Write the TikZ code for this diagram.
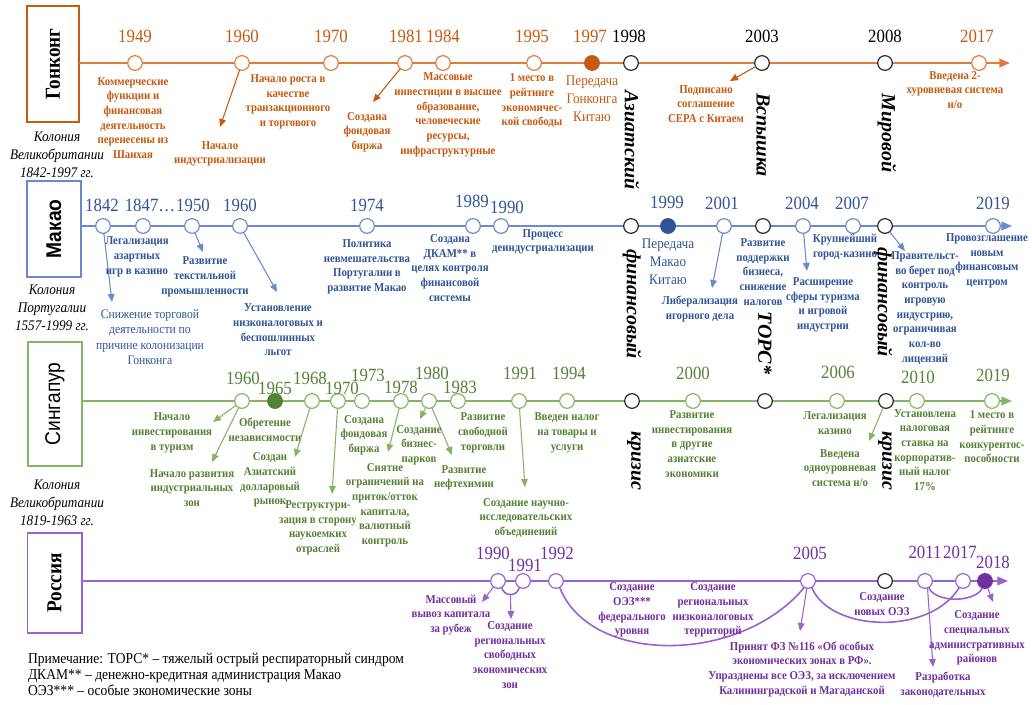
\documentclass[tikz,border=0pt]{standalone}
\usepackage{fontspec}
\setmainfont{Liberation Serif}[FakeStretch=0.9]
\newfontfamily\vfont{Liberation Serif}
\newfontfamily\sfb{Liberation Sans}[FakeStretch=0.9]
\usetikzlibrary{arrows.meta}
\definecolor{hkT}{HTML}{C55A11}
\definecolor{hkL}{HTML}{E07B3C}
\definecolor{moT}{HTML}{2F5597}
\definecolor{moL}{HTML}{6A8BCB}
\definecolor{sgT}{HTML}{548235}
\definecolor{sgL}{HTML}{84B464}
\definecolor{ruT}{HTML}{7030A0}
\definecolor{ruL}{HTML}{9A62CF}
\definecolor{blk}{HTML}{262626}
\tikzset{
  every node/.style={inner sep=0pt, outer sep=0pt},
  dot/.style={circle, minimum size=11pt, fill=white, draw, line width=0.9pt},
  hkdot/.style={dot, draw=hkL},
  modot/.style={dot, draw=moL},
  sgdot/.style={dot, draw=sgL},
  rudot/.style={dot, draw=ruL},
  bkdot/.style={dot, draw=blk},
  yr/.style={font=\fontsize{14}{14}\selectfont},
  desc/.style={align=center, font=\fontsize{9}{11}\selectfont\bfseries},
  bigd/.style={align=center, font=\fontsize{11}{13.5}\selectfont},
  crisis/.style={rotate=-90, font=\vfont\fontsize{15}{15}\selectfont\bfseries\itshape, text=black},
  colony/.style={align=center, font=\fontsize{11}{13.5}\selectfont\itshape},
  tline/.style={line width=1.2pt, -{Triangle[length=8pt,width=6.5pt]}},
  arr/.style={line width=0.8pt, -{Triangle[length=6pt,width=5pt]}},
  curve/.style={line width=1.2pt},
  cbox/.style={draw, line width=1pt, rotate=90}
}
\begin{document}
\begin{tikzpicture}[x=0.75pt,y=-0.75pt]
\useasboundingbox (0,0) rectangle (1032,704);
\fill[white] (0,0) rectangle (1032,704);

% ================= Hong Kong =================
\node[cbox, draw=hkT, minimum width=87pt, minimum height=39pt, font=\fontsize{16}{16}\selectfont\bfseries] (hkbox) at (53,64) {Гонконг};
\node[colony] (hkcol) at (57,155) {Колония\\Великобритании\\1842-1997 гг.};
\coordinate (hkend) at (1010,63);
\draw[tline, draw=hkL] (hkbox.south |- hkend) -- (hkend);
\node[hkdot] (hk1949) at (135,63) {};
\node[hkdot] (hk1960) at (242,63) {};
\node[hkdot] (hk1970) at (331,63) {};
\node[hkdot] (hk1981) at (405,63) {};
\node[hkdot] (hk1984) at (443,63) {};
\node[hkdot] (hk1995) at (534,63) {};
\node[dot, draw=hkT, fill=hkT] (hk1997) at (592,63) {};
\node[bkdot] (hk1998) at (631,63) {};
\node[bkdot] (hk2003) at (762,63) {};
\node[bkdot] (hk2008) at (885,63) {};
\node[hkdot] (hk2017) at (979,63) {};
\node[yr, text=hkT] (hky1949) at (135,36) {1949};
\node[yr, text=hkT] (hky1960) at (242,36) {1960};
\node[yr, text=hkT] (hky1970) at (331,36) {1970};
\node[yr, text=hkT] (hky1981) at (406,36) {1981};
\node[yr, text=hkT] (hky1984) at (443,36) {1984};
\node[yr, text=hkT] (hky1995) at (532,36) {1995};
\node[yr, text=hkT] (hky1997) at (590,36) {1997};
\node[yr, text=black] (hky1998) at (629,36) {1998};
\node[yr, text=black] (hky2003) at (762,36) {2003};
\node[yr, text=black] (hky2008) at (885,36) {2008};
\node[yr, text=hkT] (hky2017) at (977,36) {2017};
\node[desc, text=hkT] (hkd1949) at (133,118) {Коммерческие\\функции и\\финансовая\\деятельность\\перенесены из\\Шанхая};
\coordinate (hk1960t) at (220,127);
\draw[arr, draw=hkT] (hk1960) -- (hk1960t);
\node[desc, text=hkT] (hkd1960a) at (220,154) {Начало\\индустриализации};
\node[desc, text=hkT] (hkd1960b) at (288,102) {Начало роста в\\качестве\\транзакционного\\и торгового};
\coordinate (hk1981t) at (373,102);
\draw[arr, draw=hkT] (hk1981) -- (hk1981t);
\node[desc, text=hkT] (hkd1981) at (367,132) {Создана\\фондовая\\биржа};
\node[desc, text=hkT] (hkd1984) at (448,115) {Массовые\\инвестиции в высшее\\образование,\\человеческие\\ресурсы,\\инфраструктурные};
\node[desc, text=hkT] (hkd1995) at (532,101) {1 место в\\рейтинге\\экономичес-\\кой свободы};
\node[bigd, text=hkT] (hkd1997) at (592,99) {Передача\\Гонконга\\Китаю};
\coordinate (hk2003t) at (730,81);
\draw[arr, draw=hkT] (hk2003) -- (hk2003t);
\node[desc, text=hkT] (hkd2003) at (706,104) {Подписано\\соглашение\\CEPA с Китаем};
\node[desc, text=hkT] (hkd2017) at (955,90) {Введена 2-\\хуровневая система\\н/о};

% ================= crisis labels =================
\node[crisis] (cr1a) at (632,140) {Азиатский};
\node[crisis] (cr1b) at (632,304) {финансовый};
\node[crisis] (cr1c) at (634,461) {кризис};
\node[crisis] (cr2a) at (763,135) {Вспышка};
\node[crisis] (cr2b) at (765,343) {ТОРС*};
\node[crisis] (cr3a) at (887,133) {Мировой};
\node[crisis] (cr3b) at (883,302) {финансовый};
\node[crisis] (cr3c) at (885,461) {кризис};

% ================= Macau =================
\node[cbox, draw=moL, minimum width=72pt, minimum height=40.5pt, font=\sfb\fontsize{16}{16}\selectfont\bfseries] (mobox) at (54,229) {Макао};
\node[colony] (mocol) at (52,308) {Колония\\Португалии\\1557-1999 гг.};
\coordinate (moend) at (1012,226);
\draw[tline, draw=moL] (mobox.south |- moend) -- (moend);
\node[modot] (mo1842) at (103,226) {};
\node[modot] (mo1847) at (143,226) {};
\node[modot] (mo1950) at (192,226) {};
\node[modot] (mo1960) at (240,226) {};
\node[modot] (mo1974) at (367,226) {};
\node[modot] (mo1989) at (473,226) {};
\node[modot] (mo1990) at (501,226) {};
\node[bkdot] (mo1998) at (631,226) {};
\node[dot, draw=moT, fill=moT] (mo1999) at (668,226) {};
\node[modot] (mo2001) at (724,226) {};
\node[bkdot] (mo2003) at (763,226) {};
\node[modot] (mo2004) at (803,226) {};
\node[modot] (mo2007) at (853,226) {};
\node[bkdot] (mo2008) at (885,226) {};
\node[modot] (mo2019) at (993,226) {};
\node[yr, text=moT] (moy1842) at (102,205) {1842};
\node[yr, text=moT] (moy1847) at (150,205) {1847…};
\node[yr, text=moT] (moy1950) at (193,205) {1950};
\node[yr, text=moT] (moy1960) at (240,205) {1960};
\node[yr, text=moT] (moy1974) at (367,205) {1974};
\node[yr, text=moT] (moy1989) at (472,201) {1989};
\node[yr, text=moT] (moy1990) at (507,207) {1990};
\node[yr, text=moT] (moy1999) at (667,202) {1999};
\node[yr, text=moT] (moy2001) at (722,203) {2001};
\node[yr, text=moT] (moy2004) at (802,203) {2004};
\node[yr, text=moT] (moy2007) at (852,203) {2007};
\node[yr, text=moT] (moy2019) at (993,203) {2019};
\coordinate (mo1842t) at (112,302);
\draw[arr, draw=moL] (mo1842) -- (mo1842t);
\node[align=center, font=\fontsize{9.7}{11.5}\selectfont, text=moT] (mod1842) at (150,337) {Снижение торговой\\деятельности по\\причине колонизации\\Гонконга};
\node[desc, text=moT] (mod1847) at (137,257) {Легализация\\азартных\\игр в казино};
\coordinate (mo1950t) at (203,252);
\draw[arr, draw=moL] (mo1950) -- (mo1950t);
\node[desc, text=moT] (mod1950) at (205,277) {Развитие\\текстильной\\промышленности};
\coordinate (mo1960t) at (277,292);
\draw[arr, draw=moL] (mo1960) -- (mo1960t);
\node[desc, text=moT] (mod1960) at (278,330) {Установление\\низконалоговых и\\беспошлинных\\льгот};
\node[desc, text=moT] (mod1974) at (367,267) {Политика\\невмешательства\\Португалии в\\развитие Макао};
\node[desc, text=moT] (mod1989) at (450,268) {Создана\\ДКАМ** в\\целях контроля\\финансовой\\системы};
\node[desc, text=moT] (mod1990) at (543,242) {Процесс\\деиндустриализации};
\node[bigd, text=moT] (mod1999) at (668,262) {Передача\\Макао\\Китаю};
\coordinate (mo2001t) at (712,288);
\draw[arr, draw=moL] (mo2001) -- (mo2001t);
\node[desc, text=moT] (mod2001) at (700,309) {Либерализация\\игорного дела};
\node[desc, text=moT] (mod2003) at (763,272) {Развитие\\поддержки\\бизнеса,\\снижение\\налогов};
\coordinate (mo2004t) at (807,271);
\draw[arr, draw=moL] (mo2004) -- (mo2004t);
\node[desc, text=moT] (mod2004) at (823,305) {Расширение\\сферы туризма\\и игровой\\индустрии};
\node[desc, text=moT] (mod2007) at (845,247) {Крупнейший\\город-казино};
\coordinate (mo2008t) at (905,251);
\draw[arr, draw=moL] (mo2008) -- (mo2008t);
\node[desc, text=moT] (mod2008) at (925,308) {Правительст-\\во берет под\\контроль\\игровую\\индустрию,\\ограничивая\\кол-во\\лицензий};
\node[desc, text=moT] (mod2019) at (987,261) {Провозглашение\\новым\\финансовым\\центром};

% ================= Singapore =================
\node[cbox, draw=sgL, minimum width=93pt, minimum height=40.5pt, font=\sfb\fontsize{16}{16}\selectfont] (sgbox) at (55,404) {Сингапур};
\node[colony] (sgcol) at (57,503) {Колония\\Великобритании\\1819-1963 гг.};
\coordinate (sgend) at (1012,401);
\draw[tline, draw=sgL] (sgbox.south |- sgend) -- (sgend);
\node[sgdot] (sg1960) at (242,401) {};
\node[dot, draw=sgT, fill=sgT] (sg1965) at (275,401) {};
\node[sgdot] (sg1968) at (312,401) {};
\node[sgdot] (sg1970) at (338,401) {};
\node[sgdot] (sg1973) at (362,401) {};
\node[sgdot] (sg1978) at (401,401) {};
\node[sgdot] (sg1980) at (429,401) {};
\node[sgdot] (sg1983) at (458,401) {};
\node[sgdot] (sg1991) at (519,401) {};
\node[sgdot] (sg1994) at (567,401) {};
\node[bkdot] (sg1998) at (632,401) {};
\node[sgdot] (sg2000) at (693,401) {};
\node[bkdot] (sg2003) at (765,401) {};
\node[sgdot] (sg2006) at (837,401) {};
\node[bkdot] (sg2008) at (886,401) {};
\node[sgdot] (sg2010) at (917,401) {};
\node[sgdot] (sg2019) at (992,401) {};
\node[yr, text=sgT] (sgy1960) at (243,378) {1960};
\node[yr, text=sgT] (sgy1965) at (275,388) {1965};
\node[yr, text=sgT] (sgy1968) at (310,378) {1968};
\node[yr, text=sgT] (sgy1970) at (342,388) {1970};
\node[yr, text=sgT] (sgy1973) at (368,375) {1973};
\node[yr, text=sgT] (sgy1978) at (401,387) {1978};
\node[yr, text=sgT] (sgy1980) at (432,373) {1980};
\node[yr, text=sgT] (sgy1983) at (460,387) {1983};
\node[yr, text=sgT] (sgy1991) at (520,373) {1991};
\node[yr, text=sgT] (sgy1994) at (569,373) {1994};
\node[yr, text=sgT] (sgy2000) at (693,373) {2000};
\node[yr, text=sgT] (sgy2006) at (838,372) {2006};
\node[yr, text=sgT] (sgy2010) at (918,377) {2010};
\node[yr, text=sgT] (sgy2019) at (993,375) {2019};
\coordinate (sg1960t1) at (213,422);
\coordinate (sg1960t2) at (212,462);
\draw[arr, draw=sgL] (sg1960) -- (sg1960t1);
\draw[arr, draw=sgL] (sg1960) -- (sg1960t2);
\node[desc, text=sgT] (sgd1960a) at (172,433) {Начало\\инвестирования\\в туризм};
\node[desc, text=sgT] (sgd1960b) at (192,488) {Начало развития\\индустриальных\\зон};
\node[desc, text=sgT] (sgd1965) at (265,430) {Обретение\\независимости};
\coordinate (sg1968t) at (295,457);
\draw[arr, draw=sgL] (sg1968) -- (sg1968t);
\node[desc, text=sgT] (sgd1968) at (270,480) {Создан\\Азиатский\\долларовый\\рынок};
\coordinate (sg1970t) at (332,494);
\draw[arr, draw=sgL] (sg1970) -- (sg1970t);
\node[desc, text=sgT] (sgd1970) at (318,528) {Реструктури-\\зация в сторону\\наукоемких\\отраслей};
\node[desc, text=sgT] (sgd1973) at (364,435) {Создана\\фондовая\\биржа};
\coordinate (sg1978t) at (388,452);
\draw[arr, draw=sgL] (sg1978) -- (sg1978t);
\node[desc, text=sgT] (sgd1978) at (385,505) {Снятие\\ограничений на\\приток/отток\\капитала,\\валютный\\контроль};
\coordinate (sg1980t1) at (420,419);
\coordinate (sg1980t2) at (452,455);
\draw[arr, draw=sgL] (sg1980) -- (sg1980t1);
\draw[arr, draw=sgL] (sg1980) -- (sg1980t2);
\node[desc, text=sgT] (sgd1980a) at (419,445) {Создание\\бизнес-\\парков};
\node[desc, text=sgT] (sgd1980b) at (464,478) {Развитие\\нефтехимии};
\node[desc, text=sgT] (sgd1983) at (483,433) {Развитие\\свободной\\торговли};
\coordinate (sg1991t) at (525,487);
\draw[arr, draw=sgL] (sg1991) -- (sg1991t);
\node[desc, text=sgT] (sgd1991) at (526,518) {Создание научно-\\исследовательских\\объединений};
\node[desc, text=sgT] (sgd1994) at (567,433) {Введен налог\\на товары и\\услуги};
\node[desc, text=sgT] (sgd2000) at (692,444) {Развитие\\инвестирования\\в другие\\азиатские\\экономики};
\node[desc, text=sgT] (sgd2006) at (835,423) {Легализация\\казино};
\coordinate (sg2008t) at (869,441);
\draw[arr, draw=sgL] (sg2008) -- (sg2008t);
\node[desc, text=sgT] (sgd2008) at (840,468) {Введена\\одноуровневая\\система н/о};
\node[desc, text=sgT] (sgd2010) at (925,450) {Установлена\\налоговая\\ставка на\\корпоратив-\\ный налог\\17\%};
\node[desc, text=sgT] (sgd2019) at (992,437) {1 место в\\рейтинге\\конкурентос-\\пособности};

% ================= Russia =================
\node[cbox, draw=ruL, minimum width=75pt, minimum height=41pt, font=\fontsize{16}{16}\selectfont\bfseries] (rubox) at (54.5,583) {Россия};
\coordinate (ruend) at (1008,581);
\draw[tline, draw=ruL] (rubox.south |- ruend) -- (ruend);
\node[rudot] (ru1990) at (498,581) {};
\node[rudot] (ru1991) at (523,581) {};
\node[rudot] (ru1992) at (556,581) {};
\node[rudot] (ru2005) at (808,581) {};
\node[bkdot] (ru2008) at (885,581) {};
\node[rudot] (ru2011) at (925,581) {};
\node[rudot] (ru2017) at (963,581) {};
\node[dot, draw=ruT, fill=ruT] (ru2018) at (985,581) {};
\node[yr, text=ruT] (ruy1990) at (493,553) {1990};
\node[yr, text=ruT] (ruy1991) at (525,565) {1991};
\node[yr, text=ruT] (ruy1992) at (557,553) {1992};
\node[yr, text=ruT] (ruy2005) at (810,553) {2005};
\node[yr, text=ruT] (ruy2011) at (925,552) {2011};
\node[yr, text=ruT] (ruy2017) at (960,552) {2017};
\node[yr, text=ruT] (ruy2018) at (993,562) {2018};
\draw[curve, draw=ruL] (ru1990.-60) .. controls (504,597) and (517,597) .. (ru1991.-120);
\draw[curve, draw=ruL] (ru1992.-60) .. controls (590,665) and (740,665) .. (ru2005.-120);
\draw[curve, draw=ruL] (ru2005.-60) .. controls (830,632) and (930,636) .. (ru2017.-120);
\draw[curve, draw=ruL] (ru2011.-60) .. controls (935,603) and (975,603) .. (ru2018.-110);
\coordinate (ru1990t) at (482,602);
\draw[arr, draw=ruL] (ru1990) -- (ru1990t);
\node[desc, text=ruT] (rud1990) at (451,615) {Массовый\\вывоз капитала\\за рубеж};
\coordinate (ru9091m) at (510.5,594.5);
\coordinate (ru9091t) at (511,619);
\draw[arr, draw=ruL] (ru9091m) -- (ru9091t);
\node[desc, text=ruT] (rud1991) at (510,655) {Создание\\региональных\\свободных\\экономических\\зон};
\node[desc, text=ruT] (rud1992) at (632,610) {Создание\\ОЭЗ***\\федерального\\уровня};
\node[desc, text=ruT] (rud1992b) at (713,610) {Создание\\региональных\\низконалоговых\\территорий};
\coordinate (ru2005t) at (800,631);
\draw[arr, draw=ruL] (ru2005) -- (ru2005t);
\node[desc, text=ruT] (rud2005) at (802,669) {Принят ФЗ №116 «Об особых\\экономических зонах в РФ».\\Упразднены все ОЭЗ, за исключением\\Калининградской и Магаданской};
\node[desc, text=ruT] (rud2008) at (882,604) {Создание\\новых ОЭЗ};
\coordinate (ru2011t) at (933,667);
\draw[arr, draw=ruL] (ru2011.-70) -- (ru2011t);
\node[desc, text=ruT] (rud2011) at (943,685) {Разработка\\законодательных};
\coordinate (ru2018t) at (993,602);
\draw[arr, draw=ruL] (ru2018) -- (ru2018t);
\node[desc, text=ruT] (rud2018) at (977,638) {Создание\\специальных\\административных\\районов};

% ================= note =================
\node[anchor=west, align=left, font=\fontsize{11.3}{12}\selectfont] (note) at (28,674) {Примечание: ТОРС* – тяжелый острый респираторный синдром\\ДКАМ** – денежно-кредитная администрация Макао\\ОЭЗ*** – особые экономические зоны};
\end{tikzpicture}
\end{document}
